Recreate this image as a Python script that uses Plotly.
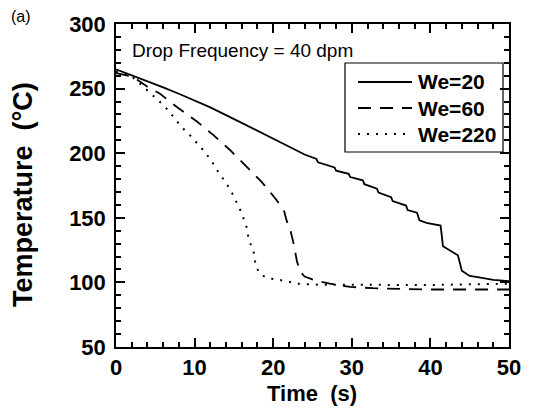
import plotly.graph_objects as go

# ---- data ----
t_we20 = [0, 2, 4, 6, 8, 10, 12, 14, 16, 18, 20, 22, 24, 25.5, 25.7, 27.8, 28.0, 29.6, 29.8, 31.4, 31.6,
          33.2, 33.4, 35.0, 35.2, 36.9, 37.1, 38.3, 38.6, 39.5, 41.3, 41.6, 42.9, 43.5, 44.0, 45, 46, 47, 48, 50]
T_we20 = [265, 260.5, 255.5, 251, 246, 241, 235.5, 229.5, 223.5, 217, 211, 205, 199, 195.5, 193, 189, 186.5,
          184, 181.5, 179, 176, 172.5, 169.5, 166, 163, 159.5, 156, 154, 148, 146, 144, 128, 123, 121, 109,
          105, 104, 103, 102, 101]

t_we60 = [0, 1.5, 2.8, 4, 5.6, 7.7, 10.3, 12.4, 14.5, 16.6, 18.5, 20.4, 21.4, 21.7, 22.2, 22.6, 23, 23.4, 24,
          24.9, 26, 27.2, 28.5, 29.8, 32.7, 36, 40, 45, 50]
T_we60 = [262, 260, 256.5, 251.5, 246, 236, 224.5, 214, 202.5, 190, 178, 164, 155, 148, 140, 130, 117, 108.5,
          104.5, 102.5, 100.5, 99, 98, 96.5, 95.5, 95, 94.5, 94.5, 94.5]

t_we220 = [0, 1.8, 3.2, 4.7, 5.8, 6.6, 7.5, 8.3, 9.4, 10.3, 11.3, 12.2, 13, 14, 14.7, 15.3, 16, 16.6, 16.9, 17.5,
           17.8, 18.5, 19.6, 20.9, 21.9, 23.2, 25.7, 30, 35, 40, 45, 50]
T_we220 = [263, 260.5, 253, 245, 238.5, 233.5, 227, 220.5, 214, 208, 201, 193.5, 185.5, 177, 170, 162.5, 153.5,
           143, 133, 124, 112, 105.5, 103, 101.8, 100.6, 99, 98.2, 98, 98, 98, 98.5, 99]

series_names = ["We=20", "We=60", "We=220"]
x_ticks = [0, 10, 20, 30, 40, 50]
y_ticks = [50, 100, 150, 200, 250, 300]

FONT = "Liberation Sans, Arial, Helvetica, sans-serif"
LINE_STYLES = [dict(color="black", width=1.8),
               dict(color="black", width=1.8, dash="13px,9px"),
               dict(color="black", width=2, dash="2px,7px")]

# plot area in window pixels (page body adds an 8px offset to the figure)
PL, PR, PT, PB = 116, 509, 24, 347
OFF = 8
W, H = 534, 414
PW, PH = PR - PL, PB - PT


def px(x):  # window x -> paper x
    return (x - PL) / PW


def py(y):  # window y -> paper y
    return (PB - y) / PH


fig = go.Figure()
for t, T, name, ls in zip([t_we20, t_we60, t_we220], [T_we20, T_we60, T_we220], series_names, LINE_STYLES):
    fig.add_trace(go.Scatter(x=t, y=T, mode="lines", name=name, line=ls, showlegend=False))

tickfont = dict(family=FONT, size=22, color="black", weight="bold")
axis_common = dict(showline=True, linecolor="black", linewidth=1.5, mirror="allticks",
                   ticks="inside", ticklen=9, tickwidth=2, tickcolor="#000000",
                   showgrid=False, zeroline=False, automargin=False, tickfont=tickfont)
fig.update_xaxes(range=[0, 50], tickmode="array", tickvals=x_ticks, ticktext=[str(v) for v in x_ticks],
                 minor=dict(ticks="inside", ticklen=5, tickmode="linear", tick0=0, dtick=2,
                            tickcolor="#000000", tickwidth=1.5, showgrid=False),
                 **axis_common)
fig.update_yaxes(range=[50, 300], tickmode="array", tickvals=y_ticks, ticktext=[str(v) for v in y_ticks],
                 minor=dict(ticks="inside", ticklen=5, tickmode="linear", tick0=0, dtick=10,
                            tickcolor="#000000", tickwidth=1.5, showgrid=False),
                 ticklabelstandoff=4, **axis_common)

shapes = []
# ---- legend box drawn in the style of the original figure ----
shapes.append(dict(type="rect", xref="paper", yref="paper", x0=px(345), x1=px(503), y0=py(152), y1=py(63),
                   line=dict(color="black", width=1.2), fillcolor="white", layer="below"))
annotations = []
for i, (name, ls) in enumerate(zip(series_names, LINE_STYLES)):
    yrow = 82 + 26 * i
    shapes.append(dict(type="line", xref="paper", yref="paper", x0=px(358), x1=px(412), y0=py(yrow), y1=py(yrow),
                       line=ls, layer="above"))
    annotations.append(dict(text=name, xref="paper", yref="paper", x=px(416), y=py(yrow), xanchor="left",
                            yanchor="middle", showarrow=False,
                            font=dict(family=FONT, size=21, color="black", weight="bold")))

annotations += [
    dict(text="Drop Frequency = 40 dpm", xref="paper", yref="paper", x=px(130),
         y=py(51), xanchor="left", yanchor="middle", showarrow=False,
         font=dict(family=FONT, size=19, color="black")),
    dict(text="(a)", xref="paper", yref="paper", x=px(OFF + 1), y=py(17),
         xanchor="left", yanchor="middle", showarrow=False,
         font=dict(family=FONT, size=16, color="black")),
    dict(text="Temperature  (°C)", xref="paper", yref="paper", x=px(23), y=py(195),
         xanchor="center", yanchor="middle", textangle=-90, showarrow=False,
         font=dict(family=FONT, size=27, color="black", weight="bold")),
    dict(text="Time  (s)", xref="paper", yref="paper", x=px(311.5), y=py(394),
         xanchor="center", yanchor="middle", showarrow=False,
         font=dict(family=FONT, size=22, color="black", weight="bold")),
]

fig.update_layout(
    width=W, height=H,
    margin=dict(l=PL - OFF, r=W - (PR - OFF), t=PT - OFF, b=H - (PB - OFF), autoexpand=False),
    paper_bgcolor="white", plot_bgcolor="white",
    showlegend=False,
    shapes=shapes,
    annotations=annotations,
)

fig.write_html("out.html")
